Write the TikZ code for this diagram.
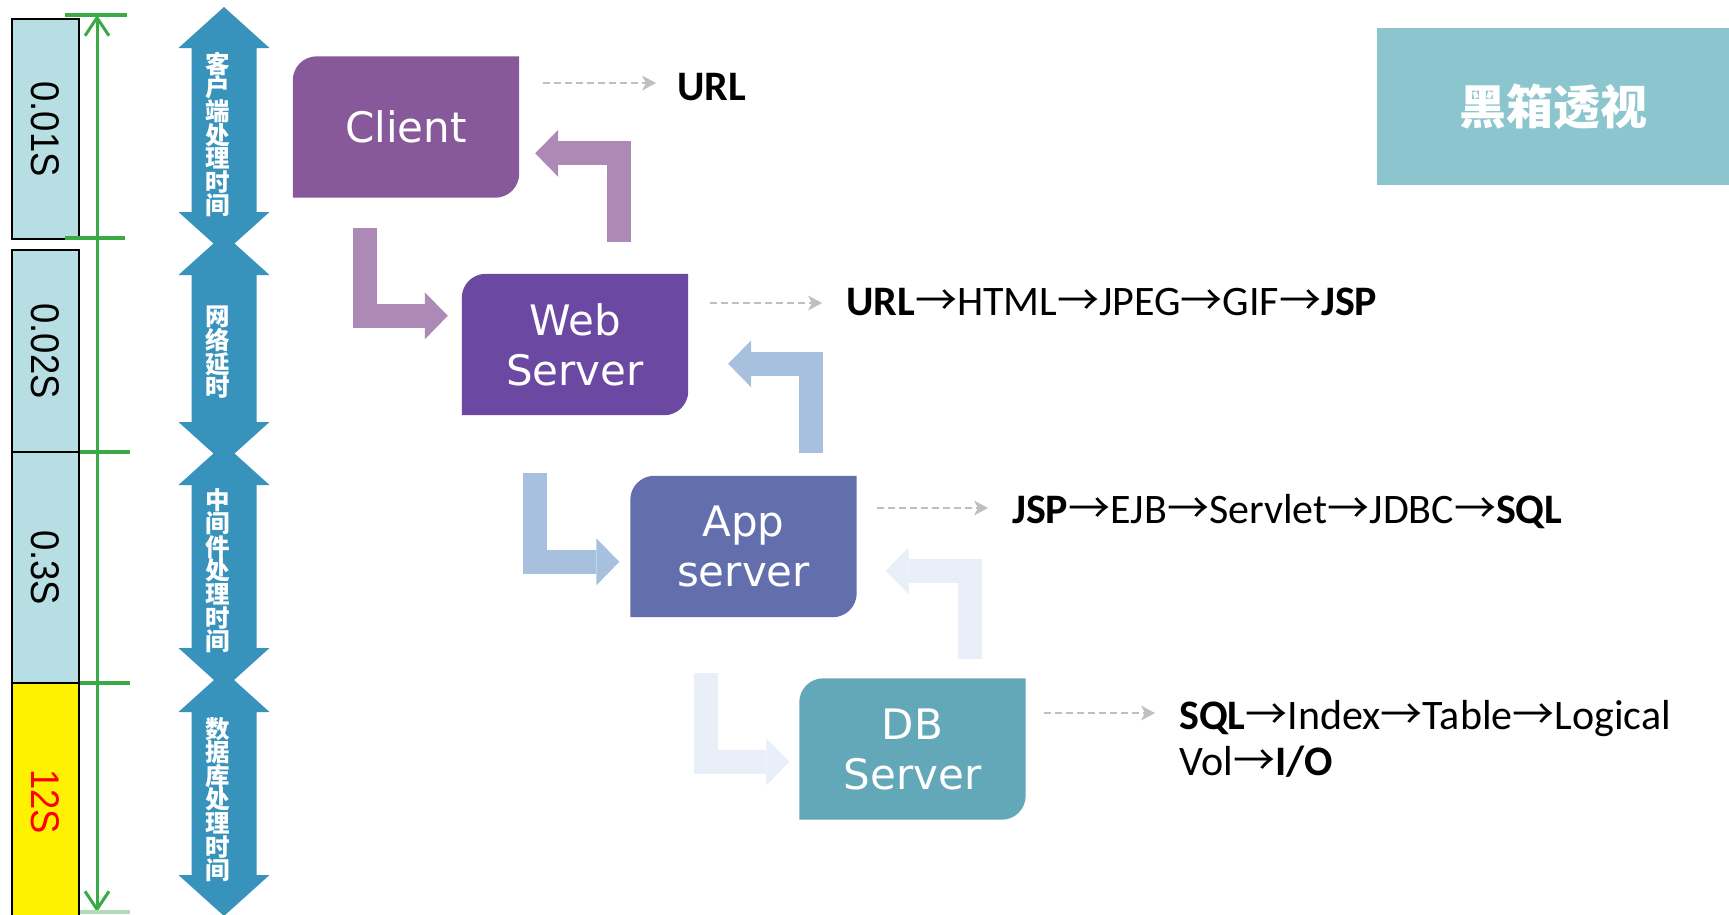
\documentclass[tikz,border=0pt]{standalone}
\usepackage{fontspec}
\setmainfont{DejaVu Sans}
\newfontfamily\cjk{Noto Sans CJK SC}
\newfontfamily\carl{Carlito}
\newfontfamily\arialf{Liberation Sans}
\usetikzlibrary{arrows.meta,calc,backgrounds}
\definecolor{clientc}{HTML}{88599A}
\definecolor{webc}{HTML}{6B48A2}
\definecolor{appc}{HTML}{636EAD}
\definecolor{dbc}{HTML}{62A8B8}
\definecolor{titlec}{HTML}{8BC5CD}
\definecolor{lbl}{HTML}{B7DEE2}
\definecolor{arrblue}{HTML}{3793BC}
\definecolor{dimgreen}{HTML}{3AAA46}
\definecolor{fatp}{HTML}{AD8AB5}
\definecolor{fatb}{HTML}{A7C0DE}
\definecolor{fatl}{HTML}{E8EFF8}
\definecolor{dgray}{HTML}{BFBFBF}
\newcommand\rar{{\cjk →}}
\newcommand\tlbr[2]{\fill[#2] ($(#1.north west)+(0,24)$) .. controls ($(#1.north west)+(0,10.7)$) and ($(#1.north west)+(10.7,0)$) .. ($(#1.north west)+(24,0)$) -- (#1.north east) -- ($(#1.south east)+(0,-24)$) .. controls ($(#1.south east)+(0,-10.7)$) and ($(#1.south east)+(-10.7,0)$) .. ($(#1.south east)+(-24,0)$) -- (#1.south west) -- cycle;}
\begin{document}
\begin{tikzpicture}[x=1pt,y=-1pt,
  tbox/.style={draw=black, line width=1.5pt, rotate=-90, minimum height=67pt, inner sep=0pt,
    font=\arialf\fontsize{40pt}{40pt}\selectfont},
  vtext/.style={text=white, align=center, inner sep=0pt,
    font=\cjk\bfseries\fontsize{24.5pt}{23.6pt}\selectfont},
  server/.style={text=white, align=center, inner sep=0pt, minimum width=226pt, minimum height=141pt,
    font=\fontsize{42pt}{50pt}\selectfont},
  rtext/.style={anchor=base west, inner sep=0pt, font=\carl\fontsize{42pt}{50pt}\selectfont},
  fat/.style={line width=24pt, line join=miter, line cap=butt,
    -{Triangle[length={23pt 0 0}, width={47pt 0 0}, line width=0pt]}},
  dasharr/.style={draw=dgray, line width=2.5pt, dash pattern=on 7pt off 4pt,
    -{Stealth[length={14pt 0 0}, width={15pt 0 0}, inset={4pt 0}, line width=0pt]}},
  dimline/.style={draw=dimgreen, line width=3.5pt}
]
\useasboundingbox (0,0) rectangle (1729,914);

% left time boxes
\node[tbox, fill=lbl, minimum width=220pt] (t1) at (45.5,129) {\scalebox{0.91}[1]{0.01S}};
\node[tbox, fill=lbl, minimum width=202pt] (t2) at (45.5,351) {\scalebox{0.91}[1]{0.02S}};
\node[tbox, fill=lbl, minimum width=231pt] (t3) at (45.5,567.5) {\scalebox{0.91}[1]{0.3S}};
\node[tbox, fill=yellow, minimum width=237pt, text=red] (t4) at (45.5,801.5) {\scalebox{0.91}[1]{12S}};

% green dimension line
\draw[dimline, line width=3pt, {Straight Barb[length={18pt 0 0}, width={24pt 0 0}]}-{Straight Barb[length={18pt 0 0}, width={24pt 0 0}]}] (97,15) -- (97,912);
\draw[dimline] (65,15) -- (127,15);
\draw[dimline] (65,238) -- (125,238);
\draw[dimline] (80,452) -- (130,452);
\draw[dimline] (80,683) -- (130,683);
\draw[dimline, draw=dimgreen!40] (80,912) -- (130,912);

% blue double arrows
\foreach \t/\b in {7/253, 234/463, 444/689, 671/916}{
  \fill[arrblue] (224,\t) -- (269.5,\t+41) -- (256.5,\t+41) -- (256.5,\b-41) -- (269.5,\b-41)
    -- (224,\b) -- (178.5,\b-41) -- (191.5,\b-41) -- (191.5,\t+41) -- (178.5,\t+41) -- cycle;
}
\node[vtext] (v1) at (218,134.5) {客\\户\\端\\处\\理\\时\\间};
\node[vtext] (v2) at (218,352.5) {网\\络\\延\\时};
\node[vtext] (v3) at (218,570.5) {中\\间\\件\\处\\理\\时\\间};
\node[vtext] (v4) at (218,799.5) {数\\据\\库\\处\\理\\时\\间};

% server nodes
\node[server] (client) at (406,127) {Client};
\node[server] (web) at (575,344.5) {Web\\Server};
\node[server] (app) at (743.5,546.5) {App\\server};
\node[server] (db) at (912.5,749) {DB\\Server};
\begin{scope}[on background layer]
\fill[white] (0,0) rectangle (1729,914);
\tlbr{client}{clientc}
\tlbr{web}{webc}
\tlbr{app}{appc}
\tlbr{db}{dbc}
\end{scope}

% fat arrows
\draw[fat, draw=fatp] ($(client.south west)+(72,30)$) |- ($(web.north west)+(-14,42)$);
\draw[fat, draw=fatp] ($(web.north east)+(-69,-32)$) |- ($(client.north east)+(16,97)$);
\draw[fat, draw=fatb] ($(web.south west)+(73,58)$) |- ($(app.north west)+(-11,86)$);
\draw[fat, draw=fatb] ($(app.north east)+(-46,-23)$) |- ($(web.north east)+(40,90)$);
\draw[fat, draw=fatl] ($(app.south west)+(76,56)$) |- ($(db.north west)+(-10,83.5)$);
\draw[fat, draw=fatl] ($(db.north east)+(-56,-19)$) |- ($(app.north east)+(29,95)$);

% right texts
\node[rtext] (url) at (677,100) {\bfseries URL};
\node[rtext] (webt) at (846,315) {{\bfseries URL}\rar HTML\rar JPEG\rar GIF\rar{\bfseries JSP}};
\node[rtext] (appt) at (1012,523) {{\bfseries JSP}\rar EJB\rar Servlet\rar JDBC\rar{\bfseries SQL}};
\node[rtext] (dbt1) at (1179,729) {{\bfseries SQL}\rar Index\rar Table\rar Logical};
\node[rtext] (dbt2) at (1179,775) {Vol\rar{\bfseries I/O}};

% dashed arrows
\coordinate (d1) at (543,83);
\coordinate (d2) at (710,303);
\coordinate (d3) at (877,508);
\coordinate (d4) at (1044,713);
\draw[dasharr, shorten >=21pt] (d1) -- (d1 -| url.west);
\draw[dasharr, shorten >=24pt] (d2) -- (d2 -| webt.west);
\draw[dasharr, shorten >=24pt] (d3) -- (d3 -| appt.west);
\draw[dasharr, shorten >=24pt] (d4) -- (d4 -| dbt1.west);

% title box
\node[fill=titlec, minimum width=352pt, minimum height=157pt, inner sep=0pt, text=white,
  font=\cjk\bfseries\fontsize{47pt}{47pt}\selectfont] (title) at (1553,106.5) {黑箱透视};
\end{tikzpicture}
\end{document}
